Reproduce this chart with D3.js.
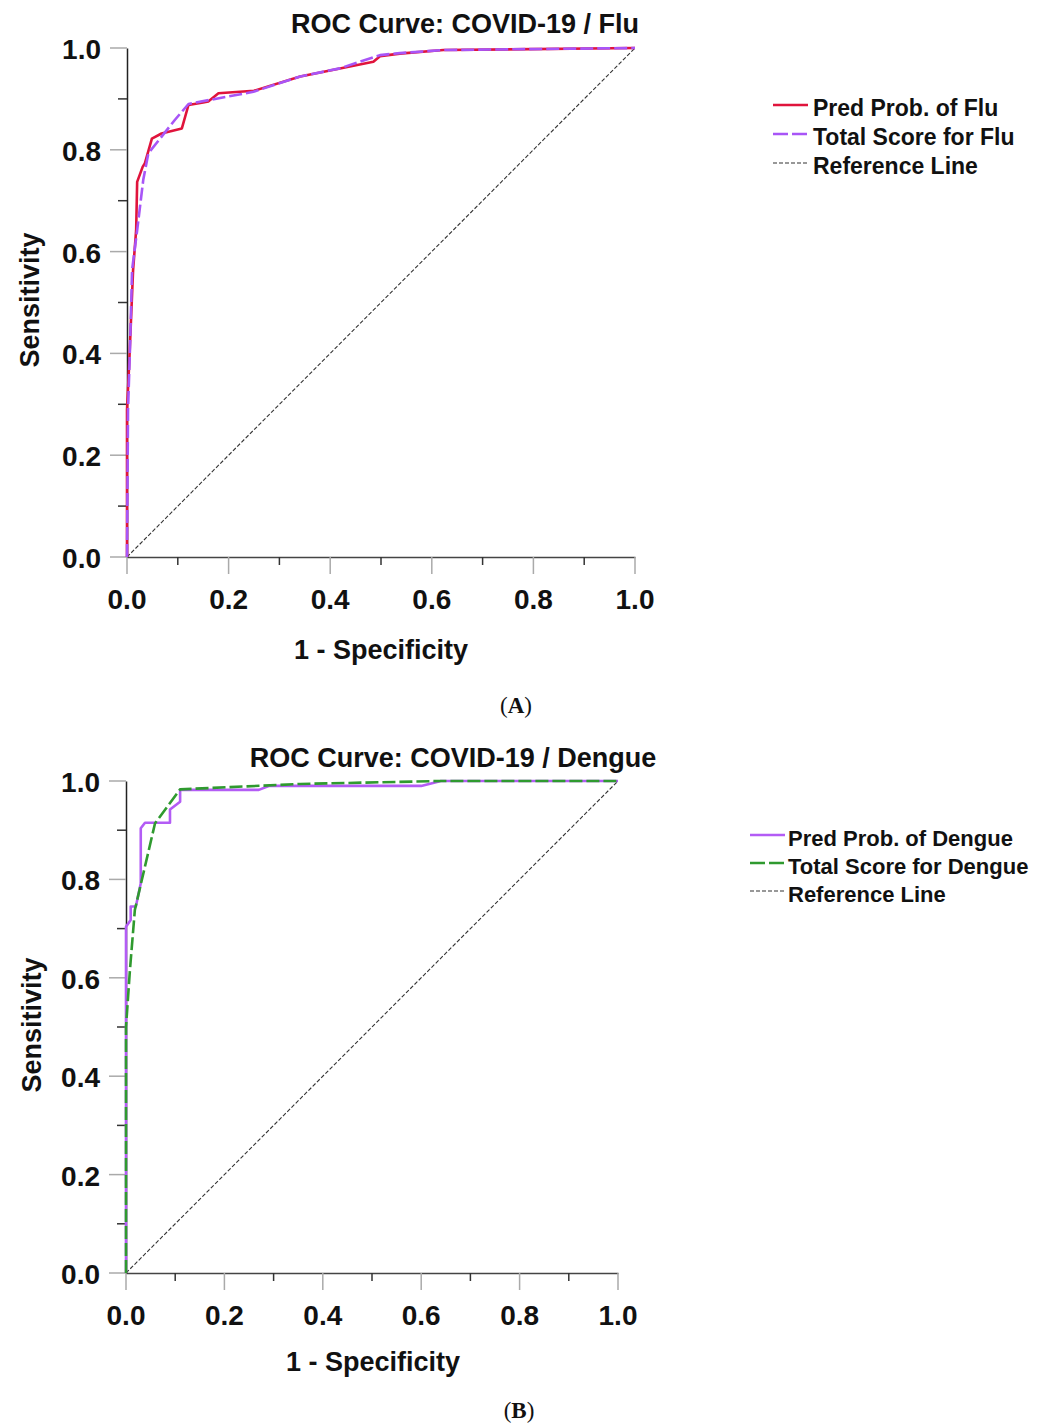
<!DOCTYPE html>
<html>
<head>
<meta charset="utf-8">
<script src="https://cdn.jsdelivr.net/npm/d3@7"></script>
<style>
  body { margin: 0; background: #fff; }
  svg text { font-family: "Liberation Sans", Arial, sans-serif; fill: #111; }
</style>
</head>
<body>
<div id="chart"></div>
<script>
//////////////////////////// Data ////////////////////////////
// x = 1 - specificity, y = sensitivity
var fluPredX  = [0, 0, 0.004, 0.012, 0.018, 0.020, 0.031, 0.035, 0.049, 0.068, 0.108, 0.121, 0.150, 0.160, 0.180, 0.250, 0.341, 0.485, 0.498, 0.537, 0.623, 1];
var fluPredY  = [0, 0.289, 0.373, 0.564, 0.642, 0.737, 0.767, 0.773, 0.822, 0.832, 0.842, 0.888, 0.893, 0.895, 0.911, 0.916, 0.944, 0.973, 0.984, 0.989, 0.996, 1];
var fluScoreX = [0, 0.002, 0.006, 0.010, 0.020, 0.032, 0.042, 0.0945, 0.121, 0.163, 0.249, 0.341, 0.419, 0.498, 0.537, 0.623, 1];
var fluScoreY = [0, 0.289, 0.413, 0.564, 0.642, 0.741, 0.793, 0.859, 0.890, 0.898, 0.914, 0.944, 0.960, 0.986, 0.990, 0.996, 1];

var denguePredX  = [0, 0, 0.0095, 0.0095, 0.020, 0.030, 0.030, 0.0386, 0.0894, 0.0894, 0.110, 0.110, 0.27, 0.29, 0.60, 0.64, 1];
var denguePredY  = [0, 0.704, 0.7175, 0.745, 0.745, 0.792, 0.904, 0.915, 0.915, 0.942, 0.958, 0.982, 0.982, 0.99, 0.99, 1, 1];
var dengueScoreX = [0, 0, 0.008, 0.018, 0.059, 0.110, 0.354, 0.64, 1];
var dengueScoreY = [0, 0.5, 0.616, 0.738, 0.914, 0.983, 0.994, 1, 1];

var refX = [0, 1], refY = [0, 1];

var tickValues = [0, 0.1, 0.2, 0.3, 0.4, 0.5, 0.6, 0.7, 0.8, 0.9, 1.0];
var tickLabels = ["0.0", "", "0.2", "", "0.4", "", "0.6", "", "0.8", "", "1.0"];

var panelA = {
  title: "ROC Curve: COVID-19 / Flu", caption: "A",
  left: 127, top: 48, w: 508, h: 509, titleX: 465, titleY: 33,
  xTitleX: 381, xTitleY: 659, yTitleX: 39, yTitleY: 300, captionX: 516, captionY: 713,
  legX: 773, legY: 112, legStep: 29, legFont: 23, legGap: 40,
  series: [
    { name: "Pred Prob. of Flu", x: fluPredX, y: fluPredY, color: "#e0143c", dash: null },
    { name: "Total Score for Flu", x: fluScoreX, y: fluScoreY, color: "#a855f7", dash: "13,4" }
  ]
};
var panelB = {
  title: "ROC Curve: COVID-19 / Dengue", caption: "B",
  left: 126, top: 781, w: 492, h: 492, titleX: 453, titleY: 767,
  xTitleX: 373, xTitleY: 1371, yTitleX: 41, yTitleY: 1025, captionX: 519, captionY: 1418,
  legX: 750, legY: 842, legStep: 28, legFont: 22, legGap: 38,
  series: [
    { name: "Pred Prob. of Dengue", x: denguePredX, y: denguePredY, color: "#b35cf5", dash: null },
    { name: "Total Score for Dengue", x: dengueScoreX, y: dengueScoreY, color: "#2f9a2f", dash: "13,4" }
  ]
};

var svg = d3.select("#chart").append("svg")
  .attr("width", 1046)
  .attr("height", 1428);

function drawPanel(p) {
  var xScale = d3.scaleLinear().domain([0, 1]).range([p.left, p.left + p.w]);
  var yScale = d3.scaleLinear().domain([0, 1]).range([p.top + p.h, p.top]);

  //axes: major ticks gray and long, minor ticks dark and short
  var xAxis = svg.append("g").attr("transform", "translate(0," + (p.top + p.h) + ")")
    .call(d3.axisBottom(xScale).tickValues(tickValues).tickSize(0).tickFormat(""));
  xAxis.select(".domain").attr("stroke", "#444").attr("stroke-width", 1.3);
  var yAxis = svg.append("g").attr("transform", "translate(" + p.left + ",0)")
    .call(d3.axisLeft(yScale).tickValues(tickValues).tickSize(0).tickFormat(""));
  yAxis.select(".domain").attr("stroke", "#222").attr("stroke-width", 1.5);

  tickValues.forEach(function(v, i) {
    var major = i % 2 === 0;
    svg.append("line")
      .attr("x1", xScale(v)).attr("x2", xScale(v))
      .attr("y1", p.top + p.h).attr("y2", p.top + p.h + (major ? 17 : 8))
      .attr("stroke", major ? "#aaa" : "#333").attr("stroke-width", 1.5);
    svg.append("line")
      .attr("y1", yScale(v)).attr("y2", yScale(v))
      .attr("x1", p.left).attr("x2", p.left - (major ? 17 : 9))
      .attr("stroke", major ? "#aaa" : "#333").attr("stroke-width", 1.5);
    if (major) {
      svg.append("text").attr("class", "tick")
        .attr("x", xScale(v)).attr("y", p.top + p.h + 52)
        .attr("text-anchor", "middle")
        .text(tickLabels[i]);
      svg.append("text").attr("class", "tick")
        .attr("x", p.left - 26).attr("y", yScale(v) + 11)
        .attr("text-anchor", "end")
        .text(tickLabels[i]);
    }
  });
  svg.selectAll("text.tick")
    .style("font-weight", "bold").style("font-size", "28px");

  //reference line
  var line = d3.line().x(function(d) { return xScale(d[0]); }).y(function(d) { return yScale(d[1]); });
  svg.append("path")
    .attr("d", line(d3.zip(refX, refY)))
    .attr("fill", "none").attr("stroke", "#333").attr("stroke-width", 1.1)
    .attr("stroke-dasharray", "4,2");

  p.series.forEach(function(s) {
    svg.append("path")
      .attr("d", line(d3.zip(s.x, s.y)))
      .attr("fill", "none").attr("stroke", s.color).attr("stroke-width", 2.6)
      .attr("stroke-linejoin", "round")
      .attr("stroke-dasharray", s.dash);
  });

  //titles
  svg.append("text").attr("x", p.titleX).attr("y", p.titleY)
    .attr("text-anchor", "middle").style("font-weight", "bold").style("font-size", "27px")
    .text(p.title);
  svg.append("text").attr("x", p.xTitleX).attr("y", p.xTitleY)
    .attr("text-anchor", "middle").style("font-weight", "bold").style("font-size", "27px")
    .text("1 - Specificity");
  svg.append("text")
    .attr("transform", "translate(" + p.yTitleX + "," + p.yTitleY + ") rotate(-90)")
    .attr("text-anchor", "middle").style("font-weight", "bold").style("font-size", "27px")
    .text("Sensitivity");

  //legend
  var leg = p.series.concat([{ name: "Reference Line", color: "#333", dash: "4,2", thin: true }]);
  leg.forEach(function(s, i) {
    var yy = p.legY + i * p.legStep;
    svg.append("line")
      .attr("x1", p.legX).attr("x2", p.legX + 35)
      .attr("y1", yy - 7).attr("y2", yy - 7)
      .attr("stroke", s.color).attr("stroke-width", s.thin ? 1.1 : 2.6)
      .attr("stroke-dasharray", s.thin ? "4,2" : (s.dash ? "15,4" : null));
    svg.append("text")
      .attr("x", p.legX + p.legGap).attr("y", yy + 4)
      .style("font-weight", "bold").style("font-size", p.legFont + "px")
      .text(s.name);
  });

  //caption
  var cap = svg.append("text").attr("x", p.captionX).attr("y", p.captionY)
    .attr("text-anchor", "middle")
    .style("font-family", "'Liberation Serif', 'DejaVu Serif', serif").style("font-size", "23px");
  cap.append("tspan").text("(");
  cap.append("tspan").style("font-weight", "bold").text(p.caption);
  cap.append("tspan").text(")");
}

drawPanel(panelA);
drawPanel(panelB);
</script>
</body>
</html>
